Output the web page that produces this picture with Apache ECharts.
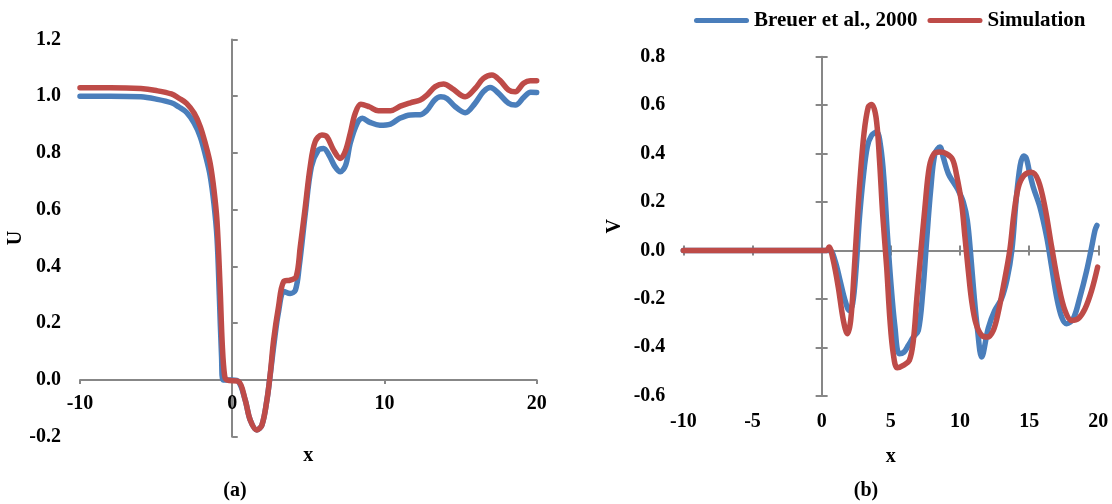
<!DOCTYPE html>
<html>
<head>
<meta charset="utf-8">
<title>U and V profiles</title>
<script src="https://cdn.jsdelivr.net/npm/echarts@6/dist/echarts.min.js"></script>
<style>
  html, body { margin: 0; padding: 0; background: #ffffff; }
  #chart { width: 1112px; height: 504px; }
</style>
</head>
<body>
<div id="chart"></div>
<script>
// ---- data -------------------------------------------------------------
const seriesNames = ['Breuer et al., 2000', 'Simulation'];
const panelCaptions = ['(a)', '(b)'];

// Panel (a): streamwise velocity U along x
const uBreuerX = [-10, -8, -6, -5, -4, -3.5, -3, -2.5, -2.1, -1.75, -1.45, -1.2, -1.0, -0.85, -0.7, -0.6,
  0, 0.4, 0.85, 1.18, 1.62, 1.95, 2.28, 2.5, 2.75, 3.04, 3.4, 3.8, 4.15, 4.4, 4.8, 5.2, 5.65, 6.0, 6.35,
  6.75, 7.1, 7.45, 7.75, 8.2, 8.55, 9.05, 9.7, 10.4, 11.0, 11.7, 12.35, 12.8, 13.3, 13.7, 14.1, 14.65,
  15.3, 15.95, 16.5, 16.95, 17.5, 18.15, 18.6, 19.15, 19.6, 20];
const uBreuerY = [1.0, 1.0, 0.998, 0.99, 0.977, 0.962, 0.943, 0.905, 0.857, 0.79, 0.72, 0.62, 0.50, 0.30, 0.08, 0.0,
  0.0, -0.005, -0.07, -0.141, -0.176, -0.159, -0.07, 0.02, 0.13, 0.24, 0.312, 0.305, 0.317, 0.40, 0.587, 0.752, 0.81, 0.816, 0.793,
  0.752, 0.734, 0.757, 0.834, 0.904, 0.922, 0.908, 0.898, 0.902, 0.922, 0.934, 0.935, 0.951, 0.987, 0.998, 0.992, 0.963,
  0.942, 0.975, 1.016, 1.031, 1.010, 0.975, 0.969, 0.996, 1.014, 1.013];

const uSimX = [-10, -8, -6, -5, -4, -3.5, -3, -2.5, -2.1, -1.75, -1.45, -1.2, -1.0, -0.8, -0.65, -0.5, -0.35,
  0.4, 0.85, 1.18, 1.62, 1.95, 2.28, 2.5, 2.72, 3.04, 3.37, 3.81, 4.2, 4.47, 4.8, 5.12, 5.45, 5.89, 6.22,
  6.66, 7.1, 7.42, 7.75, 8.08, 8.45, 9.0, 9.6, 10.4, 11.04, 11.7, 12.35, 12.79, 13.34, 13.88, 14.43,
  15.3, 15.97, 16.5, 17.06, 17.6, 18.15, 18.59, 19.14, 19.58, 20];
const uSimY = [1.03, 1.03, 1.027, 1.02, 1.008, 0.993, 0.975, 0.94, 0.893, 0.83, 0.764, 0.67, 0.56, 0.33, 0.12, 0.015, 0.0,
  -0.005, -0.07, -0.141, -0.176, -0.159, -0.07, 0.023, 0.141, 0.258, 0.346, 0.352, 0.364, 0.47, 0.611, 0.752, 0.84, 0.863, 0.857,
  0.81, 0.781, 0.805, 0.869, 0.94, 0.972, 0.963, 0.949, 0.949, 0.965, 0.977, 0.987, 1.004, 1.034, 1.043, 1.028,
  0.998, 1.028, 1.063, 1.075, 1.055, 1.022, 1.016, 1.046, 1.055, 1.055];

// Panel (b): transverse velocity V along x
const vBreuerX = [-10, -5, 0, 0.6, 0.96, 1.33, 1.69, 2.0, 2.24, 2.48, 2.72, 3.01, 3.3, 3.61, 3.98, 4.27,
  4.51, 4.75, 4.99, 5.3, 5.61, 5.95, 6.27, 6.63, 6.99, 7.3, 7.59, 7.88, 8.19, 8.55, 8.79, 9.16, 9.52,
  9.88, 10.24, 10.53, 10.77, 11.01, 11.25, 11.57, 12.05, 12.5, 13.0, 13.4, 13.75, 14.05, 14.35, 14.6,
  14.8, 15.0, 15.3, 15.78, 16.27, 16.63, 16.99, 17.35, 17.71, 18.19, 18.67, 19.16, 19.52, 19.76, 19.9];
const vBreuerY = [0, 0, 0, 0, -0.041, -0.124, -0.206, -0.248, -0.22, -0.083, 0.124, 0.303, 0.427, 0.475, 0.489, 0.427,
  0.289, 0.069, -0.124, -0.317, -0.427, -0.42, -0.392, -0.358, -0.33, -0.179, 0.041, 0.248, 0.399, 0.427, 0.385, 0.317, 0.282,
  0.248, 0.2, 0.124, -0.014, -0.179, -0.317, -0.44, -0.32, -0.25, -0.2, -0.12, 0.0, 0.2, 0.35, 0.39,
  0.38, 0.33, 0.261, 0.179, 0.055, -0.069, -0.193, -0.275, -0.303, -0.282, -0.193, -0.083, 0.014, 0.083, 0.103];

const vSimX = [-10, -5, 0, 0.36, 0.53, 0.84, 1.2, 1.57, 1.86, 2.1, 2.34, 2.53, 2.77, 3.06, 3.37, 3.61, 3.93,
  4.17, 4.41, 4.7, 4.94, 5.18, 5.47, 5.9, 6.34, 6.63, 6.87, 7.16, 7.47, 7.78, 8.12, 8.55, 9.04, 9.47, 9.76,
  10.12, 10.36, 10.6, 10.84, 11.16, 11.57, 11.98, 12.41, 12.77, 13.13, 13.6, 13.9, 14.22, 14.63, 15.18,
  15.66, 16.14, 16.63, 17.11, 17.59, 18.07, 18.55, 19.04, 19.52, 19.95];
const vSimY = [0, 0, 0, 0, 0.014, -0.041, -0.151, -0.289, -0.344, -0.289, -0.096, 0.083, 0.289, 0.482, 0.592, 0.603, 0.551,
  0.385, 0.151, -0.069, -0.289, -0.427, -0.485, -0.475, -0.454, -0.372, -0.206, -0.014, 0.179, 0.344, 0.399, 0.406, 0.399, 0.375, 0.31,
  0.193, 0.055, -0.083, -0.206, -0.303, -0.351, -0.358, -0.33, -0.255, -0.151, 0.0, 0.151, 0.261, 0.310, 0.323,
  0.289, 0.179, 0.014, -0.138, -0.248, -0.289, -0.282, -0.241, -0.165, -0.069];

// ---- styling ----------------------------------------------------------
const FONT = '"Liberation Serif", "Times New Roman", serif';
const AXIS_GRAY = '#878787';
const BLUE = '#4A7EBB';
const RED = '#BE4B48';
const textBold = { fontFamily: FONT, fontWeight: 'bold', fontSize: 20, color: '#000' };
const lineStyleAxis = { color: AXIS_GRAY, width: 2 };

function pairs(xs, ys) { return xs.map((x, i) => [x, ys[i]]); }

// an axis that only carries the line and/or ticks at the crossing point
function crossAxis(gridIndex, position, min, max, interval, opts) {
  return {
    gridIndex, type: 'value', position, min, max, interval,
    axisLine: { show: opts.line, onZero: true, onZeroAxisIndex: opts.zeroOn, lineStyle: lineStyleAxis },
    axisTick: { show: true, inside: opts.inside, length: opts.tick, lineStyle: lineStyleAxis },
    axisLabel: { show: false },
    splitLine: { show: false }
  };
}
// an axis that only carries labels (and the axis title)
function labelAxis(gridIndex, position, min, max, interval, opts) {
  return {
    gridIndex, type: 'value', position, min, max, interval, offset: opts.offset || 0,
    axisLine: { show: false, onZero: false },
    axisTick: { show: false },
    axisLabel: Object.assign({ show: true, margin: opts.margin, showMinLabel: true, showMaxLabel: true,
      formatter: opts.formatter }, textBold),
    splitLine: { show: false },
    name: opts.name, nameLocation: 'middle', nameGap: opts.nameGap,
    nameRotate: opts.nameRotate, nameTextStyle: textBold
  };
}

const lineSeries = (name, color, xi, yi, data) => ({
  name, type: 'line', xAxisIndex: xi, yAxisIndex: yi, data,
  color, showSymbol: false, symbol: 'none', smooth: 0.35,
  lineStyle: { width: 5.5, color, cap: 'round', join: 'round' }
});

const fmt1 = v => v.toFixed(1);
const capsule = 'path://M2.5,0H52.5A2.5,2.5,0,0,1,52.5,5H2.5A2.5,2.5,0,0,1,2.5,0Z';

// panel (a): distance from the U = 0 line up to the plot bottom (U = -0.2)
const gridA = { left: 80, top: 39.5, width: 456.7, height: 397.2 };
const zeroLiftA = gridA.height * 0.2 / 1.4;

const option = {
  animation: false,
  backgroundColor: '#ffffff',
  legend: {
    data: seriesNames,
    left: 689, top: 5,
    icon: capsule, itemWidth: 55, itemHeight: 5, itemGap: 10,
    textStyle: Object.assign({}, textBold, { fontSize: 21 })
  },
  grid: [
    Object.assign({ outerBoundsMode: 'none', containLabel: false }, gridA),
    { left: 683.3, top: 56.7, width: 415, height: 339, outerBoundsMode: 'none', containLabel: false }
  ],
  xAxis: [
    // (a) x axis crossing at U = 0
    crossAxis(0, 'bottom', -10, 20, 10, { line: true, zeroOn: 0, inside: false, tick: 4 }),
    // (a) tick labels placed beside the U = 0 line
    labelAxis(0, 'bottom', -10, 20, 10, { offset: -zeroLiftA, margin: 14, name: 'x', nameGap: 66 }),
    // (b) x axis crossing at V = 0, ticks on both sides
    crossAxis(1, 'bottom', -10, 20, 5, { line: true, zeroOn: 3, inside: false, tick: 5 }),
    crossAxis(1, 'bottom', -10, 20, 5, { line: false, zeroOn: 3, inside: true, tick: 5 }),
    // (b) tick labels along the bottom edge
    labelAxis(1, 'bottom', -10, 20, 5, { margin: 16, name: 'x', nameGap: 51 })
  ],
  yAxis: [
    // (a) vertical axis line at x = 0
    crossAxis(0, 'left', -0.2, 1.2, 0.2, { line: true, zeroOn: 0, inside: true, tick: 5.5 }),
    labelAxis(0, 'left', -0.2, 1.2, 0.2, { margin: 19, formatter: fmt1, name: 'U', nameGap: 51, nameRotate: 90 }),
    // (b) vertical axis line at x = 0, ticks on both sides
    crossAxis(1, 'left', -0.6, 0.8, 0.2, { line: true, zeroOn: 2, inside: false, tick: 6 }),
    crossAxis(1, 'left', -0.6, 0.8, 0.2, { line: false, zeroOn: 2, inside: true, tick: 6 }),
    labelAxis(1, 'left', -0.6, 0.8, 0.2, { margin: 18, formatter: fmt1, name: 'V', nameGap: 58, nameRotate: 90 })
  ],
  series: [
    lineSeries(seriesNames[0], BLUE, 0, 0, pairs(uBreuerX, uBreuerY)),
    lineSeries(seriesNames[1], RED, 0, 0, pairs(uSimX, uSimY)),
    lineSeries(seriesNames[0], BLUE, 2, 2, pairs(vBreuerX, vBreuerY)),
    lineSeries(seriesNames[1], RED, 2, 2, pairs(vSimX, vSimY))
  ],
  graphic: [
    { type: 'text', x: 235, y: 491, style: { text: panelCaptions[0], font: 'bold 20px ' + FONT,
      fill: '#000', align: 'center', verticalAlign: 'middle' } },
    { type: 'text', x: 866, y: 491, style: { text: panelCaptions[1], font: 'bold 20px ' + FONT,
      fill: '#000', align: 'center', verticalAlign: 'middle' } }
  ]
};

const chart = echarts.init(document.getElementById('chart'), null, { renderer: 'canvas' });
chart.setOption(option);
</script>
</body>
</html>
